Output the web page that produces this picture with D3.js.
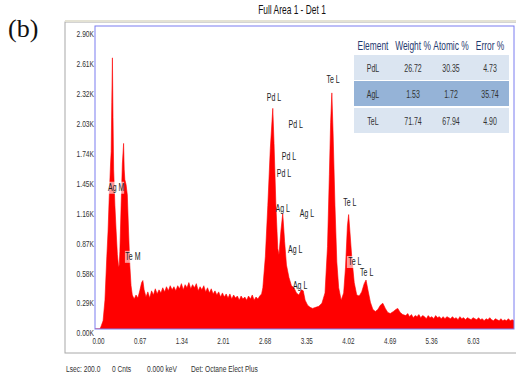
<!DOCTYPE html>
<html>
<head>
  <meta charset="utf-8">
  <script src="https://cdn.jsdelivr.net/npm/d3@7"></script>
  <style>
    body { margin: 0; background: #fff; }
    text { font-family: "Liberation Sans", Arial, sans-serif; }
    .ax text { fill: #333; font-size: 9px; }
    .ax path, .ax line { display: none; }
  </style>
</head>
<body>
<script>
// spectrum (keV, K counts)
var energy = [0.00, 0.08, 0.10, 0.13, 0.16, 0.19, 0.21, 0.23, 0.25, 0.26, 0.27, 0.28, 0.29, 0.30, 0.32, 0.34, 0.36, 0.38, 0.39,
  0.40, 0.42, 0.44, 0.46, 0.47, 0.48, 0.50, 0.52, 0.54, 0.56, 0.58,
  0.60, 0.63, 0.66, 0.69, 0.72, 0.75, 0.77, 0.79, 0.82, 0.85, 0.88, 0.91, 0.94, 0.97, 1.00, 1.03, 1.06, 1.09, 1.12,
  1.15, 1.18, 1.21, 1.24, 1.27, 1.30, 1.33, 1.36, 1.39, 1.42, 1.45, 1.48, 1.51, 1.54, 1.57, 1.60, 1.63, 1.66, 1.69,
  1.72, 1.75, 1.78, 1.81, 1.84, 1.87, 1.90, 1.93, 1.96, 1.99, 2.02, 2.05, 2.08, 2.11, 2.14, 2.17, 2.20, 2.23, 2.26,
  2.29, 2.32, 2.35, 2.38, 2.41, 2.44, 2.47, 2.50, 2.53, 2.56, 2.59, 2.62, 2.65, 2.68,
  2.70, 2.74, 2.78, 2.82, 2.86, 2.88, 2.91, 2.94,
  2.96, 2.99, 3.02, 3.05, 3.08, 3.12, 3.16, 3.20, 3.24, 3.28, 3.32, 3.35, 3.38, 3.42, 3.46, 3.50, 3.55, 3.60, 3.65,
  3.70, 3.74, 3.77, 3.79, 3.81, 3.83, 3.86, 3.89, 3.92, 3.96, 4.00, 4.03, 4.06, 4.08, 4.10, 4.13, 4.17, 4.21, 4.25,
  4.29, 4.33, 4.36, 4.39, 4.43, 4.47, 4.51, 4.55, 4.59, 4.63, 4.67, 4.71, 4.75, 4.80, 4.84, 4.87, 4.91, 4.95, 5.00,
  5.03, 5.06, 5.09, 5.12, 5.15, 5.18, 5.21, 5.24, 5.27, 5.30, 5.33, 5.36, 5.39, 5.42, 5.45, 5.48, 5.51, 5.54, 5.57,
  5.60, 5.63, 5.66, 5.69, 5.72, 5.75, 5.78, 5.81, 5.84, 5.87, 5.90, 5.93, 5.96, 5.99, 6.02, 6.05, 6.08, 6.11, 6.14,
  6.17, 6.20, 6.23, 6.26, 6.29, 6.32, 6.35, 6.38, 6.41, 6.44, 6.47, 6.50, 6.53, 6.56, 6.59, 6.62, 6.65, 6.68, 6.71, 6.74];
var counts = [0.00, 0.00, 0.03, 0.08, 0.28, 0.70, 0.95, 1.30, 1.60, 1.72, 2.20, 2.63, 2.05, 1.55, 1.20, 0.95, 0.72, 0.60, 0.62,
  0.75, 1.20, 1.60, 1.80, 1.55, 1.45, 1.40, 1.30, 0.95, 0.62, 0.42,
  0.33, 0.29, 0.33, 0.30, 0.37, 0.45, 0.47, 0.38, 0.31, 0.36, 0.30, 0.37, 0.33, 0.39, 0.34, 0.38, 0.35, 0.40, 0.36,
  0.41, 0.37, 0.42, 0.38, 0.41, 0.37, 0.42, 0.39, 0.44, 0.38, 0.43, 0.40, 0.45, 0.39, 0.43, 0.40, 0.44, 0.37, 0.41,
  0.38, 0.42, 0.36, 0.40, 0.35, 0.39, 0.34, 0.37, 0.33, 0.36, 0.31, 0.35, 0.31, 0.34, 0.30, 0.34, 0.29, 0.33, 0.30,
  0.32, 0.28, 0.32, 0.29, 0.31, 0.28, 0.32, 0.29, 0.33, 0.28, 0.31, 0.29, 0.32, 0.34,
  0.40, 0.70, 1.20, 1.75, 2.14, 1.80, 1.20, 0.78,
  0.72, 0.95, 1.12, 0.85, 0.62, 0.50, 0.42, 0.40, 0.35, 0.33, 0.38, 0.37, 0.28, 0.23, 0.21, 0.20, 0.21, 0.22, 0.25,
  0.35, 0.80, 1.50, 2.00, 2.29, 1.90, 1.20, 0.65, 0.40, 0.28, 0.35, 0.60, 1.00, 1.11, 0.95, 0.70, 0.45, 0.33, 0.32,
  0.36, 0.44, 0.475, 0.38, 0.26, 0.19, 0.17, 0.19, 0.23, 0.25, 0.20, 0.16, 0.15, 0.17, 0.19, 0.20, 0.16, 0.14, 0.13,
  0.15, 0.12, 0.14, 0.11, 0.13, 0.12, 0.14, 0.11, 0.13, 0.12, 0.10, 0.13, 0.11, 0.12, 0.10, 0.13, 0.11, 0.12, 0.10,
  0.12, 0.10, 0.12, 0.11, 0.10, 0.12, 0.10, 0.11, 0.09, 0.12, 0.10, 0.11, 0.09, 0.11, 0.10, 0.09, 0.11, 0.10, 0.09,
  0.11, 0.09, 0.10, 0.08, 0.10, 0.09, 0.11, 0.09, 0.08, 0.10, 0.09, 0.08, 0.10, 0.08, 0.09, 0.08, 0.10, 0.08, 0.09, 0.08];

var yTicks = [0, 0.29, 0.58, 0.87, 1.16, 1.45, 1.74, 2.03, 2.32, 2.61, 2.90];
var xTicks = [0, 0.67, 1.34, 2.01, 2.68, 3.35, 4.02, 4.69, 5.36, 6.03];

// peak labels: text, keV, K counts, boxed
var peakNames = ["Ag M", "Te M", "Pd L", "Pd L", "Pd L", "Pd L", "Ag L", "Ag L", "Ag L", "Ag L", "Te L", "Te L", "Te L", "Te L"];
var peakKeV   = [0.34, 0.61, 2.88, 3.23, 3.12, 3.04, 3.02, 3.41, 3.22, 3.30, 3.83, 4.10, 4.18, 4.37];
var peakK     = [1.37, 0.70, 2.25, 1.98, 1.67, 1.51, 1.17, 1.12, 0.77, 0.42, 2.42, 1.23, 0.65, 0.55];
var peakBox   = [true, true, false, false, false, false, false, false, false, false, false, false, true, false];

// quantification table
var tableHead = ["Element", "Weight %", "Atomic %", "Error %"];
var elements = ["PdL", "AgL", "TeL"];
var weightPct = ["26.72", "1.53", "71.74"];
var atomicPct = ["30.35", "1.72", "67.94"];
var errorPct = ["4.73", "35.74", "4.90"];

var width = 516, height = 379;
var NARROW = 0.7;
var svg = d3.select("body").append("svg").attr("width", width).attr("height", height);

// squeezed text, to look like the narrow face of the original
function txt(parent, x, y, s, size, anchor, fill) {
  return parent.append("g").attr("transform", "translate(" + x + "," + y + ") scale(" + NARROW + ",1)")
    .append("text").attr("dy", "0.35em").attr("text-anchor", anchor || "start")
    .style("font-size", size + "px").attr("fill", fill || "#333").text(s);
}

var x = d3.scaleLinear().domain([0, 6.74]).range([95, 514]);
var y = d3.scaleLinear().domain([0, 2.9]).range([329, 30]);

// outer panel
svg.append("rect").attr("x", 65).attr("y", 22).attr("width", 460).attr("height", 331)
  .attr("fill", "#fff").attr("stroke", "#a8a8a8");
svg.append("line").attr("x1", 65).attr("x2", 516).attr("y1", 21).attr("y2", 21)
  .attr("stroke", "#e4e2d4").attr("stroke-width", 2);

svg.append("text").attr("x", 8).attr("y", 37).text("(b)")
  .style("font-family", "'Liberation Serif', 'Times New Roman', serif").style("font-size", "26px").attr("fill", "#111");
txt(svg, 292, 10, "Full Area 1 - Det 1", 12, "middle", "#111");

svg.append("clipPath").attr("id", "clip").append("rect")
  .attr("x", 95).attr("y", 26).attr("width", 419).attr("height", 303);

var spec = energy.map(function(e, i) { return [e, counts[i]]; });
var area = d3.area().x(function(d) { return x(d[0]); }).y0(y(0)).y1(function(d) { return y(d[1]); });
svg.append("path").datum(spec).attr("clip-path", "url(#clip)")
  .attr("d", area).attr("fill", "#ff0000").attr("stroke", "#ff0000").attr("stroke-width", 0.6);

// plot frame
svg.append("rect").attr("x", 95).attr("y", 26).attr("width", 419).attr("height", 303)
  .attr("fill", "none").attr("stroke", "#7a7cf0");

svg.append("g").attr("class", "ax").attr("transform", "translate(94,4)")
  .call(d3.axisLeft(y).tickValues(yTicks).tickSize(0).tickPadding(0)
    .tickFormat(function(d) { return d3.format(".2f")(d) + "K"; }))
  .selectAll("text").attr("transform", "scale(0.74,1)");

svg.append("g").attr("class", "ax").attr("transform", "translate(3,329)")
  .call(d3.axisBottom(x).tickValues(xTicks).tickSize(0).tickPadding(9).tickFormat(d3.format(".2f")))
  .selectAll("text").attr("transform", "scale(0.7,1)");

// peak labels
var lab = svg.append("g");
peakNames.forEach(function(t, i) {
  var px = x(peakKeV[i]), py = y(peakK[i]);
  if (peakBox[i]) {
    lab.append("rect").attr("x", px - 8).attr("y", py - 6).attr("width", 16).attr("height", 12)
      .attr("fill", "#fff").attr("opacity", 0.6);
  }
  txt(lab, px, py, t, 10, "middle", "#222");
});

// table
var colX = [373, 413, 451, 490];
var rowY = [55, 81, 108];
var rowFill = ["#dbe5f1", "#95b3d7", "#dbe5f1"];
tableHead.forEach(function(h, j) {
  txt(svg, colX[j], 46, h, 12, "middle", "#1f3a70");
});
elements.forEach(function(el, i) {
  svg.append("rect").attr("x", 354).attr("y", rowY[i]).attr("width", 155).attr("height", 25).attr("fill", rowFill[i]);
  [el, weightPct[i], atomicPct[i], errorPct[i]].forEach(function(v, j) {
    txt(svg, colX[j], rowY[i] + 13, v, 10, "middle", "#333");
  });
});

// footer
var footer = ["Lsec: 200.0", "0 Cnts", "0.000 keV", "Det: Octane Elect Plus"];
var footX = [66, 112, 147, 191];
footer.forEach(function(t, i) {
  txt(svg, footX[i], 369, t, 9.5, "start", "#333");
});
</script>
</body>
</html>
